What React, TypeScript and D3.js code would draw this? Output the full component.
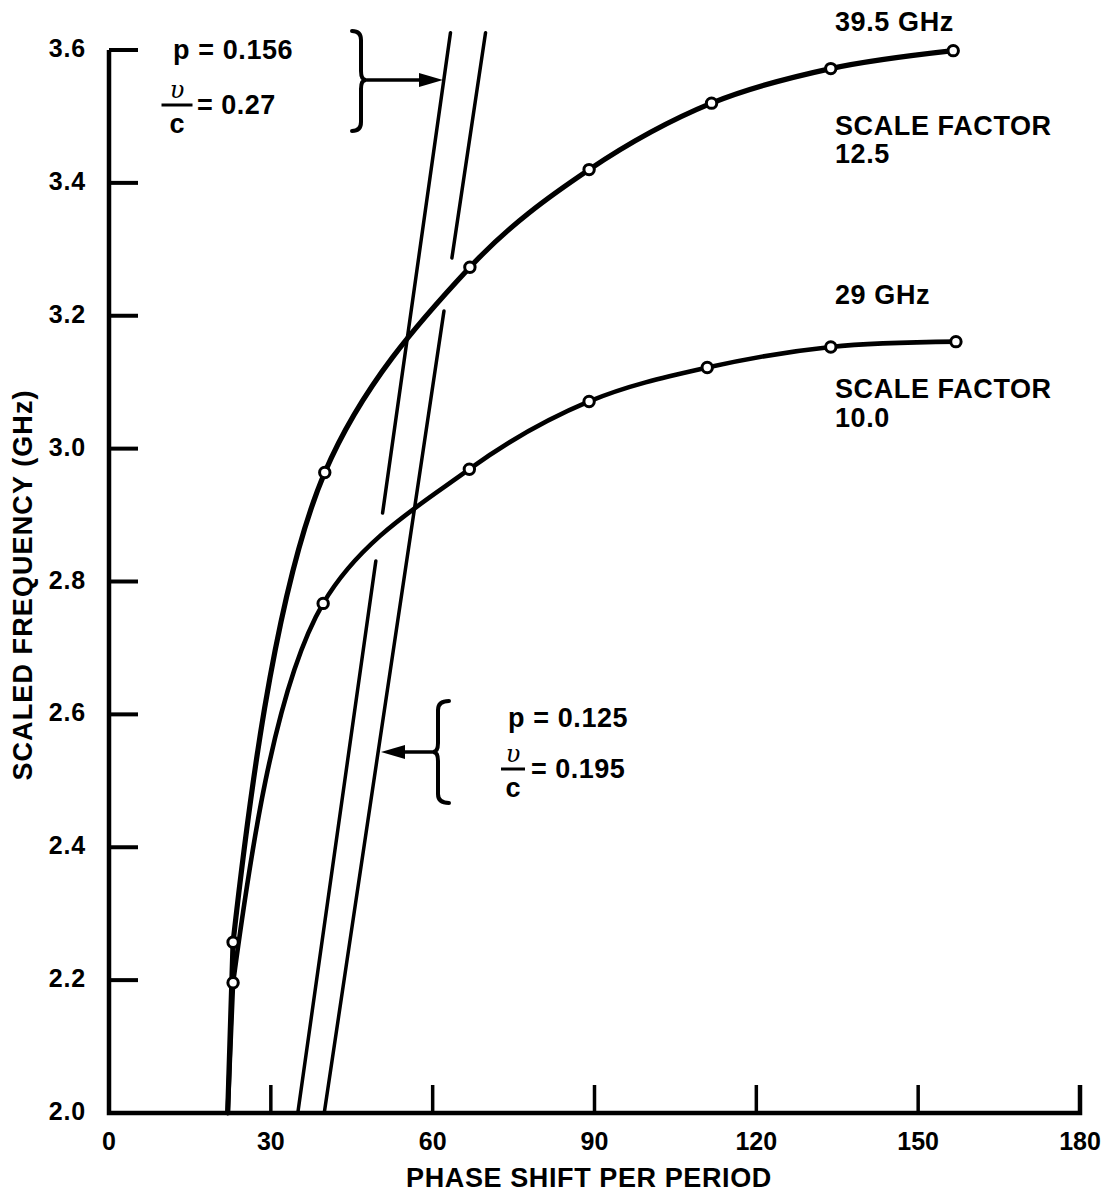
import React from "react";
import * as d3 from "d3";

// Axis ticks
const phaseTicks = [0, 30, 60, 90, 120, 150, 180];
const freqTicks = [2.0, 2.2, 2.4, 2.6, 2.8, 3.0, 3.2, 3.4, 3.6];

// Both dispersion curves leave the axis at the same phase
const curveOrigin = { phase: 22.0, freq: 2.0 };

// 39.5 GHz band, scale factor 12.5 (measured points)
const band39Phase = [23.0, 40.0, 66.9, 89.0, 111.7, 133.8, 156.5];
const band39Freq = [2.257, 2.964, 3.273, 3.42, 3.52, 3.572, 3.599];

// 29 GHz band, scale factor 10.0 (measured points)
const band29Phase = [23.0, 39.7, 66.8, 89.0, 110.9, 133.8, 157.0];
const band29Freq = [2.196, 2.767, 2.969, 3.071, 3.122, 3.153, 3.161];

// Beam (light) lines: end points and the break where another curve hops over
const beamA = { phase: [35.0, 63.3], freq: [2.0, 3.626], gap: [2.831, 2.903] }; // p = 0.156, v/c = 0.27
const beamB = { phase: [39.9, 69.8], freq: [2.0, 3.626], gap: [3.207, 3.287] }; // p = 0.125, v/c = 0.195

const W = 1110;
const H = 1196;
const FONT = "'Liberation Sans', Arial, Helvetica, sans-serif";

const x = d3.scaleLinear().domain([0, 180]).range([109, 1080]);
const y = d3.scaleLinear().domain([2.0, 3.6]).range([1113, 50]);

type Pt = { phase: number; freq: number };

function zipPts(ph: number[], fr: number[]): Pt[] {
  return ph.map((p, i) => ({ phase: p, freq: fr[i] }));
}

const curveGen = d3
  .line<Pt>()
  .x((d) => x(d.phase))
  .y((d) => y(d.freq))
  .curve(d3.curveCatmullRom.alpha(0.5));

// The curve rises straight from the axis to the first measured point,
// then follows a smooth spline through the remaining points.
function curvePath(ph: number[], fr: number[]) {
  const pts = [curveOrigin, ...zipPts(ph, fr)];
  const full = curveGen(pts) || "";
  const c1 = full.indexOf("C");
  const c2 = full.indexOf("C", c1 + 1);
  const start = `M${x(curveOrigin.phase)},${y(curveOrigin.freq)}L${x(ph[0])},${y(fr[0])}`;
  return c2 > 0 ? start + full.slice(c2) : full;
}

function beamSegments(b: { phase: number[]; freq: number[]; gap: number[] }) {
  const at = (f: number) => {
    const t = (f - b.freq[0]) / (b.freq[1] - b.freq[0]);
    return { phase: b.phase[0] + t * (b.phase[1] - b.phase[0]), freq: f };
  };
  const lower = [at(b.freq[0]), at(b.gap[0])];
  const upper = [at(b.gap[1]), at(b.freq[1])];
  const seg = d3
    .line<Pt>()
    .x((d) => x(d.phase))
    .y((d) => y(d.freq));
  return [seg(lower) || "", seg(upper) || ""];
}

// Curly brace with arm ends at armX, spine at spineX and the point at tipX
function bracePath(armX: number, spineX: number, tipX: number, yTop: number, yMid: number, yBot: number) {
  const r = 9;
  return [
    `M${armX},${yTop}`,
    `Q${spineX},${yTop} ${spineX},${yTop + r}`,
    `L${spineX},${yMid - r}`,
    `Q${spineX},${yMid} ${tipX},${yMid}`,
    `Q${spineX},${yMid} ${spineX},${yMid + r}`,
    `L${spineX},${yBot - r}`,
    `Q${spineX},${yBot} ${armX},${yBot}`,
  ].join(" ");
}

function Fraction({ cx, barY, len, eqX, eqText }: { cx: number; barY: number; len: number; eqX: number; eqText: string }) {
  return (
    <g>
      <text
        x={cx}
        y={barY - 7}
        textAnchor="middle"
        fontFamily="'DejaVu Serif', serif"
        fontStyle="italic"
        fontSize={24}
      >
        υ
      </text>
      <line x1={cx - len / 2} x2={cx + len / 2} y1={barY} y2={barY} stroke="#000" strokeWidth={3} />
      <text x={cx} y={barY + 28} textAnchor="middle" fontFamily={FONT} fontWeight="bold" fontSize={27}>
        c
      </text>
      <text x={eqX} y={barY + 9} fontFamily={FONT} fontWeight="bold" fontSize={27} letterSpacing={0.5}>
        {eqText}
      </text>
    </g>
  );
}

export default function App() {
  const upperPath = curvePath(band39Phase, band39Freq);
  const lowerPath = curvePath(band29Phase, band29Freq);
  const [aLow, aHigh] = beamSegments(beamA);
  const [bLow, bHigh] = beamSegments(beamB);
  const markers = [...zipPts(band39Phase, band39Freq), ...zipPts(band29Phase, band29Freq)];

  const x0 = x(0);
  const y0 = y(2.0);
  const label = { fontFamily: FONT, fontWeight: "bold" as const, fontSize: 27, letterSpacing: 0.6 };

  return (
    <svg
      width={W}
      height={H}
      viewBox={`0 0 ${W} ${H}`}
      style={{ position: "absolute", left: 0, top: 0, background: "#fff" }}
    >
      <rect width={W} height={H} fill="#fff" />

      {/* Axes */}
      <path
        d={`M${x0},${y(3.6)} L${x0},${y0} L${x(180)},${y0} L${x(180)},${y0 - 28}`}
        fill="none"
        stroke="#000"
        strokeWidth={4.5}
        strokeLinejoin="miter"
      />
      {freqTicks.map((f) => (
        <g key={`yt${f}`}>
          <line x1={x0} x2={x0 + 29} y1={y(f)} y2={y(f)} stroke="#000" strokeWidth={4} />
          <text
            x={86}
            y={y(f) + 7}
            textAnchor="end"
            fontFamily={FONT}
            fontWeight="bold"
            fontSize={25}
            letterSpacing={0.8}
          >
            {f.toFixed(1)}
          </text>
        </g>
      ))}
      {phaseTicks.map((p) => (
        <g key={`xt${p}`}>
          {p > 0 && p < 180 && (
            <line x1={x(p)} x2={x(p)} y1={y0} y2={y0 - 28} stroke="#000" strokeWidth={3.5} />
          )}
          <text
            x={x(p)}
            y={1150}
            textAnchor="middle"
            fontFamily={FONT}
            fontWeight="bold"
            fontSize={25}
          >
            {p}
          </text>
        </g>
      ))}

      {/* Axis titles */}
      <text x={589} y={1187} textAnchor="middle" {...label}>
        PHASE SHIFT PER PERIOD
      </text>
      <text transform="translate(32,585) rotate(-90)" textAnchor="middle" {...label} letterSpacing={1.1}>
        SCALED FREQUENCY (GHz)
      </text>

      {/* Beam lines */}
      {[aLow, aHigh, bLow, bHigh].map((d, i) => (
        <path key={`beam${i}`} d={d} fill="none" stroke="#000" strokeWidth={3.5} strokeLinecap="round" />
      ))}

      {/* Dispersion curves */}
      <path d={lowerPath} fill="none" stroke="#000" strokeWidth={4.6} strokeLinecap="round" />
      <path d={upperPath} fill="none" stroke="#000" strokeWidth={5.2} strokeLinecap="round" />
      {markers.map((m, i) => (
        <circle
          key={`m${i}`}
          cx={x(m.phase)}
          cy={y(m.freq)}
          r={5.2}
          fill="#fff"
          stroke="#000"
          strokeWidth={3}
        />
      ))}

      {/* Upper beam-line annotation */}
      <text x={173} y={59} {...label}>
        p = 0.156
      </text>
      <Fraction cx={177} barY={105} len={31} eqX={197} eqText="= 0.27" />
      <path d={bracePath(352, 361, 366, 31, 80, 131)} fill="none" stroke="#000" strokeWidth={4} strokeLinecap="round" />
      <line x1={366} x2={424} y1={80} y2={80} stroke="#000" strokeWidth={3.5} />
      <path d="M419,73 L443,80 L419,87 Z" fill="#000" />

      {/* Lower beam-line annotation */}
      <text x={508} y={727} {...label}>
        p = 0.125
      </text>
      <Fraction cx={513} barY={769} len={24} eqX={531} eqText="= 0.195" />
      <path d={bracePath(449, 438, 433, 701, 752, 803)} fill="none" stroke="#000" strokeWidth={4} strokeLinecap="round" />
      <line x1={433} x2={400} y1={752} y2={752} stroke="#000" strokeWidth={3.5} />
      <path d="M405,745 L381,752 L405,759 Z" fill="#000" />

      {/* Curve labels */}
      <text x={835} y={31} {...label}>
        39.5 GHz
      </text>
      <text x={835} y={135} {...label}>
        SCALE FACTOR
      </text>
      <text x={835} y={163} {...label}>
        12.5
      </text>
      <text x={835} y={304} {...label}>
        29 GHz
      </text>
      <text x={835} y={398} {...label}>
        SCALE FACTOR
      </text>
      <text x={835} y={427} {...label}>
        10.0
      </text>
    </svg>
  );
}
